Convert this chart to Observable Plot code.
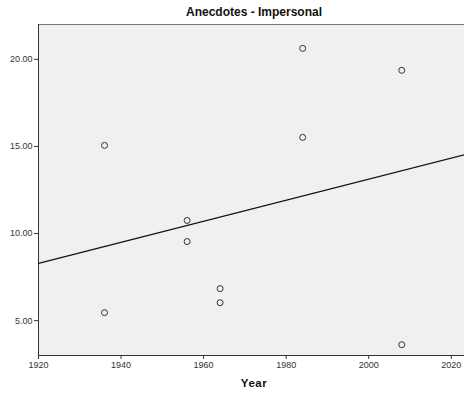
<!DOCTYPE html>
<html><head><meta charset="utf-8">
<script src="https://cdn.jsdelivr.net/npm/d3@7"></script>
<script src="https://cdn.jsdelivr.net/npm/@observablehq/plot@0.6"></script>
<style>
body{margin:0;background:#fff;font-family:"Liberation Sans",Arial,sans-serif;}
#wrap{position:relative;width:464px;height:398px;overflow:hidden;}
#title{position:absolute;left:0;top:5px;width:508px;text-align:center;font-weight:bold;font-size:12px;color:#111;}
#xlab{position:absolute;left:0;top:377px;width:508px;text-align:center;font-weight:bold;font-size:11.5px;color:#111;letter-spacing:0.5px;}
</style></head>
<body><div id="wrap"><div id="title">Anecdotes - Impersonal</div><div id="chart"></div><div id="xlab">Year</div></div>
<script>
const years = [1936, 1936, 1956, 1956, 1964, 1964, 1984, 1984, 2008, 2008];
const values = [15.06, 5.46, 10.75, 9.54, 6.84, 6.03, 20.63, 15.52, 19.37, 3.62];
const xTicks = [1920, 1940, 1960, 1980, 2000, 2020];
const yTicks = [5, 10, 15, 20];
const xDomain = [1920, 2023.2];
const yDomain = [3, 22];

const data = years.map((y, i) => ({year: y, value: values[i]}));
// least-squares fit line across total range
const mx = d3.mean(years), my = d3.mean(values);
const slope = d3.sum(data, d => (d.year - mx) * (d.value - my)) / d3.sum(data, d => (d.year - mx) ** 2);
const fit = xDomain.map(x => ({year: x, value: my + slope * (x - mx)}));

const chart = Plot.plot({
  width: 464, height: 398,
  marginLeft: 38, marginTop: 24, marginRight: 0, marginBottom: 43,
  style: {fontFamily: '"Liberation Sans",Arial,sans-serif', fontSize: "9px", color: "#333", background: "transparent"},
  x: {domain: xDomain, ticks: xTicks, tickFormat: "d", label: null, tickSize: 4, tickPadding: 2},
  y: {domain: yDomain, ticks: yTicks, tickFormat: ".2f", label: null, tickSize: 4, tickPadding: 2},
  marks: [
    Plot.frame({fill: "#f0f0f0", stroke: "#777"}),
    Plot.axisX({ticks: xTicks, tickFormat: "d", tickSize: 4, tickPadding: 2, stroke: "#333", label: null}),
    Plot.axisY({ticks: yTicks, tickFormat: ".2f", tickSize: 4, tickPadding: 2, stroke: "#333", label: null}),
    Plot.ruleX([xDomain[0]], {stroke: "#333"}),
    Plot.ruleY([yDomain[0]], {stroke: "#333"}),
    Plot.line(fit, {x: "year", y: "value", stroke: "#111", strokeWidth: 1.2}),
    Plot.dot(data, {x: "year", y: "value", r: 3, stroke: "#333", strokeWidth: 1, fill: "none"})
  ]
});
document.getElementById("chart").appendChild(chart);
</script></body></html>
